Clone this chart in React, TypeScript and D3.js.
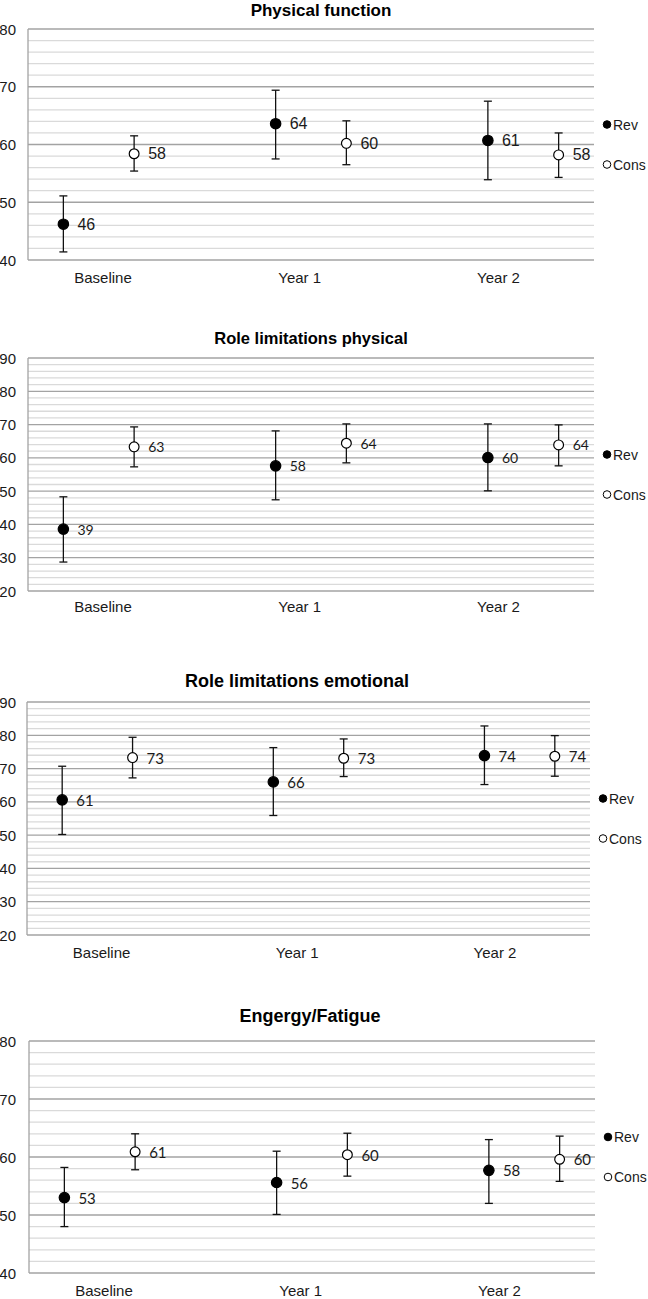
import React, { useEffect, useRef } from "react";
import * as d3 from "d3";

const categories = ["Baseline", "Year 1", "Year 2"];
const seriesNames = ["Rev", "Cons"];
const panelTitles = ["Physical function", "Role limitations physical", "Role limitations emotional", "Engergy/Fatigue"];

// x positions on a 0..8 scale (scatter-style layout)
const revX = [0.5, 3.5, 6.5];
const consX = [1.5, 4.5, 7.5];
const categoryX = [1.06, 3.84, 6.65];

const yDomains = [[40, 80], [20, 90], [20, 90], [40, 80]];

// Physical function
const pfRev = [46.2, 63.6, 60.7];
const pfRevLow = [41.4, 57.5, 53.9];
const pfRevHigh = [51.1, 69.4, 67.5];
const pfCons = [58.4, 60.2, 58.2];
const pfConsLow = [55.4, 56.5, 54.3];
const pfConsHigh = [61.5, 64.1, 62.0];

// Role limitations physical
const rpRev = [38.6, 57.6, 60.1];
const rpRevLow = [28.7, 47.4, 50.1];
const rpRevHigh = [48.3, 68.1, 70.2];
const rpCons = [63.3, 64.4, 63.9];
const rpConsLow = [57.3, 58.5, 57.6];
const rpConsHigh = [69.3, 70.2, 69.9];

// Role limitations emotional
const reRev = [60.6, 66.0, 73.9];
const reRevLow = [50.2, 55.9, 65.2];
const reRevHigh = [70.7, 76.3, 82.8];
const reCons = [73.3, 73.1, 73.7];
const reConsLow = [67.2, 67.6, 67.7];
const reConsHigh = [79.4, 78.9, 79.9];

// Energy/Fatigue
const efRev = [53.0, 55.6, 57.7];
const efRevLow = [48.0, 50.1, 52.0];
const efRevHigh = [58.2, 61.0, 63.0];
const efCons = [60.9, 60.4, 59.6];
const efConsLow = [57.8, 56.7, 55.8];
const efConsHigh = [64.0, 64.1, 63.6];

const panelSeries = [
  [[pfRev, pfRevLow, pfRevHigh], [pfCons, pfConsLow, pfConsHigh]],
  [[rpRev, rpRevLow, rpRevHigh], [rpCons, rpConsLow, rpConsHigh]],
  [[reRev, reRevLow, reRevHigh], [reCons, reConsLow, reConsHigh]],
  [[efRev, efRevLow, efRevHigh], [efCons, efConsLow, efConsHigh]],
];

// layout of each panel in page pixels
const layouts = [
  { title: 10, titleX: 321, titleSize: 17, top: 29, bottom: 260, left: 28, right: 594, label: 277, narrow: false, valFont: "Liberation Sans", valSize: 16 },
  { title: 338, titleX: 311, titleSize: 16.5, top: 358, bottom: 591, left: 28, right: 594, label: 606, narrow: false, valFont: "Lato", valSize: 14 },
  { title: 681, titleX: 297, titleSize: 18, top: 702, bottom: 935, left: 27, right: 590, label: 952, narrow: true, valFont: "Lato", valSize: 15 },
  { title: 1016, titleX: 310, titleSize: 18, top: 1041, bottom: 1273, left: 29, right: 595, label: 1290, narrow: true, valFont: "Lato", valSize: 15 },
];

const sans = "'Liberation Sans', Arial, sans-serif";
const narrow = "'Liberation Sans Narrow', 'Arial Narrow', 'Liberation Sans', sans-serif";

function App() {
  const ref = useRef<SVGSVGElement>(null);

  useEffect(() => {
    const svg = d3.select(ref.current);
    svg.selectAll("*").remove();

    layouts.forEach((lay, pi) => {
      const g = svg.append("g");
      const font = lay.narrow ? narrow : sans;
      const [y0, y1] = yDomains[pi];

      const x = d3.scaleLinear().domain([0, 8]).range([lay.left, lay.right]);
      const y = d3.scaleLinear().domain([y0, y1]).range([lay.bottom, lay.top]);

      // minor gridlines every 2
      g.selectAll(".minor")
        .data(d3.range(y0, y1 + 0.001, 2).filter((v) => v % 10 !== 0))
        .enter()
        .append("line")
        .attr("x1", lay.left)
        .attr("x2", lay.right)
        .attr("y1", (d) => y(d))
        .attr("y2", (d) => y(d))
        .attr("stroke", "#dadada")
        .attr("stroke-width", 1.3);

      // major gridlines every 10
      const majors = d3.range(y0, y1 + 0.001, 10);
      g.selectAll(".major")
        .data(majors)
        .enter()
        .append("line")
        .attr("x1", lay.left)
        .attr("x2", lay.right)
        .attr("y1", (d) => y(d))
        .attr("y2", (d) => y(d))
        .attr("stroke", "#a3a3a3")
        .attr("stroke-width", 1.3);

      // left axis line
      g.append("line")
        .attr("x1", lay.left)
        .attr("x2", lay.left)
        .attr("y1", lay.top)
        .attr("y2", lay.bottom)
        .attr("stroke", "#a3a3a3")
        .attr("stroke-width", 1.3);

      // y tick labels
      g.selectAll(".ytick")
        .data(majors)
        .enter()
        .append("text")
        .attr("x", 16)
        .attr("y", (d) => y(d))
        .attr("text-anchor", "end")
        .attr("dominant-baseline", "central")
        .attr("font-family", font)
        .attr("font-size", 15)
        .attr("fill", "#1a1a1a")
        .text((d) => d);

      // title
      g.append("text")
        .attr("x", lay.titleX)
        .attr("y", lay.title)
        .attr("text-anchor", "middle")
        .attr("dominant-baseline", "central")
        .attr("font-family", font)
        .attr("font-weight", "bold")
        .attr("font-size", lay.titleSize)
        .attr("fill", "#000")
        .text(panelTitles[pi]);

      // category labels
      g.selectAll(".cat")
        .data(categories)
        .enter()
        .append("text")
        .attr("x", (d, i) => x(categoryX[i]))
        .attr("y", lay.label)
        .attr("text-anchor", "middle")
        .attr("dominant-baseline", "central")
        .attr("font-family", font)
        .attr("font-size", 15)
        .attr("fill", "#1a1a1a")
        .text((d) => d);

      // series: error bars, points, value labels
      panelSeries[pi].forEach((ser, si) => {
        const [mean, low, high] = ser;
        const xs = si === 0 ? revX : consX;
        const pts = mean.map((m, i) => ({ m, lo: low[i], hi: high[i], x: x(xs[i]) }));
        const sg = g.append("g");

        sg.selectAll(".bar")
          .data(pts)
          .enter()
          .append("line")
          .attr("x1", (d) => d.x)
          .attr("x2", (d) => d.x)
          .attr("y1", (d) => y(d.lo))
          .attr("y2", (d) => y(d.hi))
          .attr("stroke", "#111")
          .attr("stroke-width", 1.3);

        ["lo", "hi"].forEach((k) => {
          sg.selectAll(".cap" + k)
            .data(pts)
            .enter()
            .append("line")
            .attr("x1", (d) => d.x - 4)
            .attr("x2", (d) => d.x + 4)
            .attr("y1", (d) => y(d[k]))
            .attr("y2", (d) => y(d[k]))
            .attr("stroke", "#111")
            .attr("stroke-width", 1.3);
        });

        sg.selectAll(".pt")
          .data(pts)
          .enter()
          .append("circle")
          .attr("cx", (d) => d.x)
          .attr("cy", (d) => y(d.m))
          .attr("r", si === 0 ? 5.2 : 4.9)
          .attr("fill", si === 0 ? "#000" : "#fff")
          .attr("stroke", "#000")
          .attr("stroke-width", 1.2);

        sg.selectAll(".val")
          .data(pts)
          .enter()
          .append("text")
          .attr("x", (d) => d.x + 14)
          .attr("y", (d) => y(d.m))
          .attr("dominant-baseline", "central")
          .attr("font-family", lay.valFont)
          .attr("font-size", lay.valSize)
          .attr("fill", "#1a1a1a")
          .text((d) => Math.round(d.m));
      });

      // legend
      const mid = (lay.top + lay.bottom) / 2;
      const lg = g.append("g");
      seriesNames.forEach((name, si) => {
        const ly = mid + (si === 0 ? -20 : 20);
        lg.append("circle")
          .attr("cx", lay.right + 13)
          .attr("cy", ly)
          .attr("r", 3.8)
          .attr("fill", si === 0 ? "#000" : "#fff")
          .attr("stroke", "#000")
          .attr("stroke-width", 1);
        lg.append("text")
          .attr("x", lay.right + 19)
          .attr("y", ly)
          .attr("dominant-baseline", "central")
          .attr("font-family", font)
          .attr("font-size", 14)
          .attr("fill", "#1a1a1a")
          .text(name);
      });
    });
  }, []);

  return (
    <svg
      ref={ref}
      width={648}
      height={1299}
      style={{ position: "absolute", left: 0, top: 0, background: "#fff" }}
    />
  );
}

export default App;
